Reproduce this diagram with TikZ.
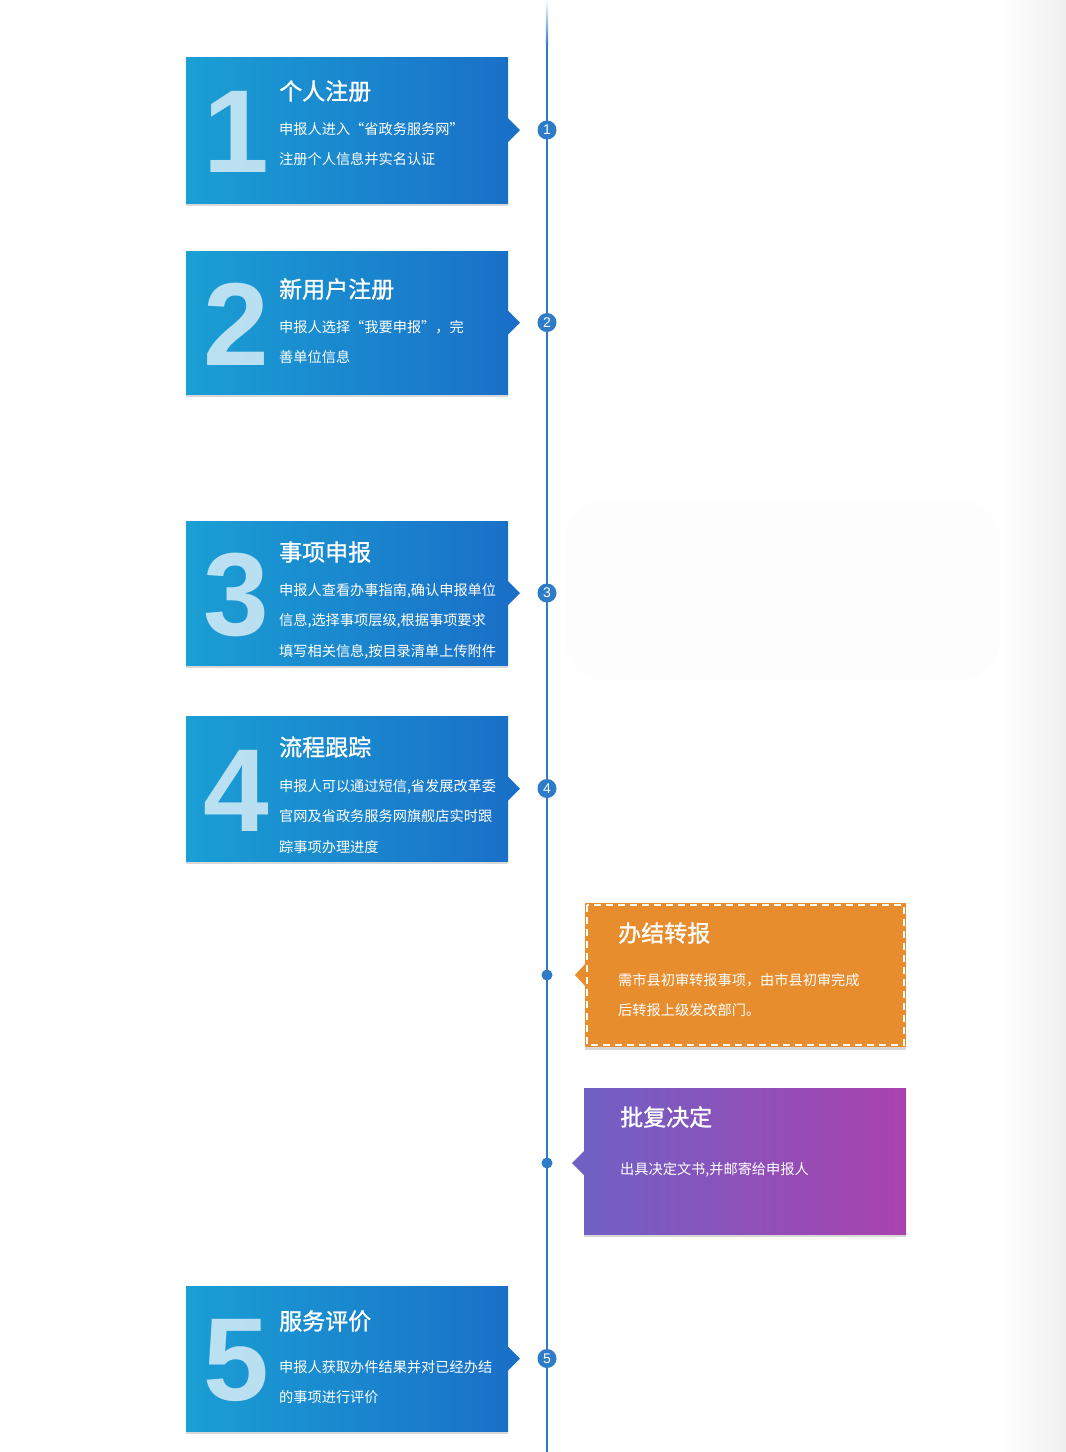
\documentclass[tikz,border=0pt]{standalone}
\usepackage{fontspec}
\newfontfamily\cjk{Noto Sans CJK SC}
\newfontfamily\cjkt{Noto Sans CJK SC}[FakeBold=1.2]
\newfontfamily\numfont{Liberation Sans}
\usetikzlibrary{shadows,fadings}
\definecolor{bl}{HTML}{1A9FD4}
\definecolor{br}{HTML}{1A70C8}
\definecolor{line}{HTML}{2E7CC8}
\definecolor{org}{HTML}{E88D2E}
\definecolor{pl}{HTML}{7060C4}
\definecolor{pr}{HTML}{AA42AE}
\tikzset{
  card/.style={left color=bl,right color=br,draw=none,drop shadow={opacity=0.3,shadow xshift=0pt,shadow yshift=-3pt}},
  ttl/.style={anchor=west,text=white,font=\cjkt\fontsize{23}{23}\selectfont,inner sep=0pt},
  bdy/.style={anchor=north west,text=white,align=left,inner sep=0pt,font=\cjk\fontsize{14.2}{30.5}\selectfont},
  bignum/.style={anchor=center,text=white,opacity=0.7,font=\numfont\bfseries\fontsize{118}{118}\selectfont,inner sep=0pt},
  dotnum/.style={circle,fill=line,text=white,minimum size=19pt,inner sep=0pt,font=\numfont\fontsize{14}{14}\selectfont},
  dot/.style={circle,fill=line,minimum size=11pt,inner sep=0pt},
}
\newcommand\stepcard[8]{% name, ytop, ybot, digit, title, titley, body, bodyy
  \path[card] (186,#2) rectangle (508,#3);
  \fill[br] (508,{(#2+#3)/2-12}) -- (520,{(#2+#3)/2}) -- (508,{(#2+#3)/2+12}) -- cycle;
  \node[bignum] (#1n) at (236,{(#2+#3)/2+2}) {#4};
  \node[ttl] (#1t) at (279,#6) {#5};
  \node[bdy] (#1b) at (279,#8) {#7};
  \node[dotnum] (#1c) at (547,{(#2+#3)/2}) {#4};
}
\begin{document}
\begin{tikzpicture}[x=1pt,y=-1pt]
\useasboundingbox (0,0) rectangle (1066,1452);
\fill[white] (0,0) rectangle (1066,1452);
\shade[left color=white,right color=black!6] (1000,0) rectangle (1066,1452);
\fill[black!0.7,rounded corners=40pt] (565,500) rectangle (1000,680);
\coordinate (top) at (547,0);
\coordinate (bot) at (547,1452);
\shade[top color=white,bottom color=line] (545.8,0) rectangle (548.2,45);
\draw[line,line width=2.4pt] (547,45) -- (bot);
\stepcard{s1}{57}{203}{1}{个人注册}{91}{申报人进入“省政务服务网”\\注册个人信息并实名认证}{122}
\stepcard{s2}{251}{394}{2}{新用户注册}{289}{申报人选择“我要申报”，完\\善单位信息}{320}
\stepcard{s3}{521}{665}{3}{事项申报}{552}{申报人查看办事指南,确认申报单位\\信息,选择事项层级,根据事项要求\\填写相关信息,按目录清单上传附件}{583}
\stepcard{s4}{716}{861}{4}{流程跟踪}{747}{申报人可以通过短信,省发展改革委\\官网及省政务服务网旗舰店实时跟\\踪事项办理进度}{779}
\stepcard{s5}{1286}{1431}{5}{服务评价}{1321}{申报人获取办件结果并对已经办结\\的事项进行评价}{1360}
% orange
\fill[org,drop shadow={opacity=0.3,shadow xshift=0pt,shadow yshift=-3pt}] (585,903) rectangle (906,1047);
\fill[org] (586,963) -- (575,975) -- (586,987) -- cycle;
\draw[white,line width=2pt,dash pattern=on 7pt off 5pt] (587,905) rectangle (904,1045);
\node[ttl] (ot) at (618,933) {办结转报};
\node[bdy] (ob) at (618,973) {需市县初审转报事项，由市县初审完成\\后转报上级发改部门。};
\node[dot] (d1) at (547,975) {};
% purple
\path[left color=pl,right color=pr,drop shadow={opacity=0.3,shadow xshift=0pt,shadow yshift=-3pt}] (584,1088) rectangle (906,1234);
\fill[pl] (584,1151) -- (572,1163) -- (584,1175) -- cycle;
\node[ttl] (pt) at (620,1117) {批复决定};
\node[bdy] (pb) at (620,1162) {出具决定文书,并邮寄给申报人};
\node[dot] (d2) at (547,1163) {};
\end{tikzpicture}
\end{document}
